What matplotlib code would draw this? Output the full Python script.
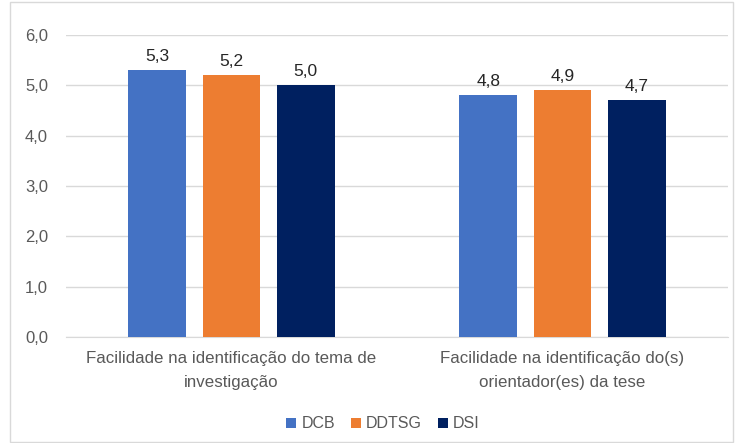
import matplotlib
matplotlib.use("Agg")
import matplotlib.pyplot as plt
import numpy as np
from matplotlib.patches import Rectangle

categories = ["Facilidade na identificação do tema de\ninvestigação",
              "Facilidade na identificação do(s)\norientador(es) da tese"]
series_names = ["DCB", "DDTSG", "DSI"]
dcb = [5.3, 4.8]
ddtsg = [5.2, 4.9]
dsi = [5.0, 4.7]
yticks = [0, 1, 2, 3, 4, 5, 6]

colors = ["#4472C4", "#ED7D31", "#002060"]
text_color = "#595959"

plt.rcParams['font.family'] = ['Liberation Sans', 'DejaVu Sans']

fig = plt.figure(figsize=(7.36, 4.43), dpi=100)
ax = fig.add_axes([66/736, 1-337/443, (728-66)/736, (337-35)/443])

x = np.arange(len(categories))
w = 0.175
step = 0.224
for i, (name, vals) in enumerate(zip(series_names, [dcb, ddtsg, dsi])):
    bars = ax.bar(x + (i-1)*step, vals, width=w, color=colors[i], label=name, zorder=3)
    for b, v in zip(bars, vals):
        ax.text(b.get_x()+b.get_width()/2, v+0.12, f"{v:.1f}".replace('.', ','),
                ha='center', va='bottom', fontsize=12.5, color='#262626')

ax.set_xlim(-0.5, 1.5)
ax.set_ylim(0, 6)
ax.set_yticks(yticks)
ax.set_yticklabels([f"{t:.1f}".replace('.', ',') for t in yticks], fontsize=12, color=text_color)
ax.set_xticks(x)
ax.set_xticklabels(categories, fontsize=12.2, color=text_color, linespacing=1.75)
ax.tick_params(axis='both', length=0)
ax.tick_params(axis='y', pad=13)
ax.tick_params(axis='x', pad=10)
ax.grid(axis='y', color='#D9D9D9', linewidth=1, zorder=0)
for s in ['top', 'right', 'left']:
    ax.spines[s].set_visible(False)
ax.spines['bottom'].set_color('#D9D9D9')

leg = fig.legend(loc='center', bbox_to_anchor=(383/736, 1-424/443), ncol=3, frameon=False,
                 fontsize=11.5, handlelength=0.65, handleheight=0.65, handletextpad=0.3, columnspacing=1.0)
for t in leg.get_texts():
    t.set_color(text_color)

fig.patches.append(Rectangle((10/736, 1/443), (733-10)/736, (441-1)/443, transform=fig.transFigure,
                             fill=False, edgecolor='#D9D9D9', linewidth=1))

fig.savefig("out.png", dpi=100)
